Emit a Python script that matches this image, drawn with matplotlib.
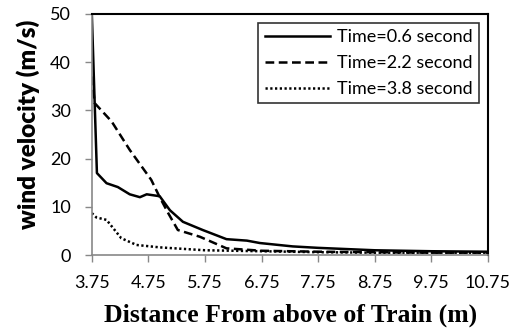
import matplotlib
matplotlib.use("Agg")
import matplotlib.pyplot as plt

x1 = [3.75, 3.84, 4.01, 4.21, 4.42, 4.60, 4.72, 4.95, 5.13, 5.36, 5.71, 6.13, 6.49, 6.72, 7.30, 7.75, 8.75, 9.75, 10.75]
y1 = [50.0, 17.0, 14.9, 14.1, 12.6, 12.0, 12.6, 12.2, 9.3, 6.9, 5.2, 3.3, 3.0, 2.5, 1.8, 1.5, 1.0, 0.8, 0.7]

x2 = [3.75, 3.80, 4.10, 4.42, 4.80, 4.95, 5.10, 5.27, 5.66, 6.13, 6.75, 7.75, 8.75, 9.75, 10.75]
y2 = [37.0, 31.5, 27.7, 21.8, 15.6, 12.0, 8.7, 5.2, 3.8, 1.4, 0.9, 0.7, 0.6, 0.5, 0.5]

x3 = [3.75, 3.83, 4.01, 4.27, 4.54, 4.95, 5.75, 6.75, 7.75, 8.75, 9.75, 10.75]
y3 = [8.7, 7.8, 7.3, 3.5, 2.1, 1.6, 1.0, 0.8, 0.6, 0.5, 0.5, 0.5]

labels = ["Time=0.6 second", "Time=2.2 second", "Time=3.8 second"]
xticks = [3.75, 4.75, 5.75, 6.75, 7.75, 8.75, 9.75, 10.75]
yticks = [0, 10, 20, 30, 40, 50]

plt.rcParams['font.family'] = ['Lato', 'DejaVu Sans']
fig = plt.figure(figsize=(5.13, 3.30), dpi=100)
ax = fig.add_axes([0.179, 0.227, 0.772, 0.731])

ax.plot(x1, y1, color='black', lw=1.8, linestyle='-', label=labels[0])
ax.plot(x2, y2, color='black', lw=1.8, linestyle=(0, (3.5, 1.8)), label=labels[1])
ax.plot(x3, y3, color='black', lw=1.8, linestyle=(0, (0.9, 1.0)), label=labels[2])

ax.set_xlim(3.75, 10.75)
ax.set_ylim(0, 50)
ax.set_xticks(xticks)
ax.set_xticklabels([f"{t:g}" for t in xticks])
ax.set_yticks(yticks)
ax.tick_params(axis='both', labelsize=13, color='#888888', length=5, width=1)
ax.tick_params(axis='x', pad=9)
ax.tick_params(axis='y', pad=10)
for s in ['top', 'right']:
    ax.spines[s].set_color('black')
    ax.spines[s].set_linewidth(1.5)
for s in ['left', 'bottom']:
    ax.spines[s].set_color('#888888')
    ax.spines[s].set_linewidth(1.2)

fig.text(28 / 513, 1 - 124 / 330, "wind velocity (m/s)", rotation=90,
         ha='center', va='center', fontsize=17.5, fontweight='heavy',
         family=['Lato', 'DejaVu Sans'])
fig.text(291 / 513, 1 - 315 / 330, "Distance From above of Train (m)",
         ha='center', va='center', fontsize=18.5, fontweight='bold',
         family=['Liberation Serif'])

leg = ax.legend(loc='upper right', fontsize=13, frameon=True, fancybox=False,
                edgecolor='black', handlelength=3.6, borderaxespad=0.5,
                labelspacing=0.55, handletextpad=0.4, borderpad=0.35)
leg.get_frame().set_linewidth(1.2)

fig.savefig("out.png", dpi=100)
